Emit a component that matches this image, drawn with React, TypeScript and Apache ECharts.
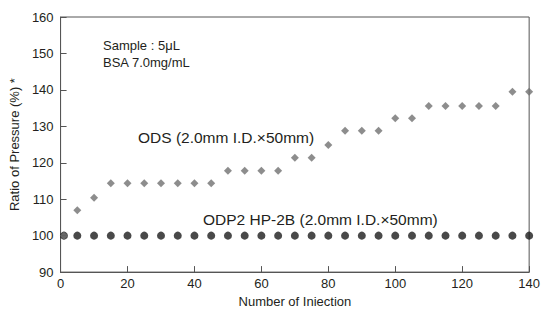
import React, { useEffect, useRef } from "react";
import * as echarts from "echarts";

const injections = [1, 5, 10, 15, 20, 25, 30, 35, 40, 45, 50, 55, 60, 65, 70, 75, 80, 85, 90, 95, 100, 105, 110, 115, 120, 125, 130, 135, 140];
const odsValues = [100, 107, 110.4, 114.4, 114.4, 114.4, 114.4, 114.4, 114.4, 114.4, 117.8, 117.8, 117.8, 117.8, 121.4, 121.4, 124.9, 128.8, 128.8, 128.8, 132.2, 132.2, 135.6, 135.6, 135.6, 135.6, 135.6, 139.5, 139.5];
const odp2Values = [100, 100, 100, 100, 100, 100, 100, 100, 100, 100, 100, 100, 100, 100, 100, 100, 100, 100, 100, 100, 100, 100, 100, 100, 100, 100, 100, 100, 100];

const xTitle = "Number of Iniection";
const yTitle = "Ratio of Pressure (%) *";
const noteLines = ["Sample : 5μL", "BSA 7.0mg/mL"];
const odsLabel = "ODS (2.0mm I.D.×50mm)";
const odp2Label = "ODP2 HP-2B (2.0mm I.D.×50mm)";

const FONT = "'Liberation Sans', Arial, Helvetica, sans-serif";
const TXT = "#231f20";
const AXIS = "#555555";

export default function App() {
  const ref = useRef<HTMLDivElement>(null);
  useEffect(() => {
    document.body.style.margin = "0";
    if (!ref.current) return;
    const chart = echarts.init(ref.current, undefined, { renderer: "svg" });
    chart.setOption({
      animation: false,
      backgroundColor: "#ffffff",
      textStyle: { fontFamily: FONT },
      grid: { left: 57, right: 10, top: 17, bottom: 36, show: true, borderColor: AXIS, borderWidth: 1 },
      xAxis: {
        type: "value",
        min: 0,
        max: 140,
        interval: 20,
        name: xTitle,
        nameLocation: "middle",
        nameGap: 22,
        nameTextStyle: { fontSize: 13, color: TXT, fontFamily: FONT },
        axisLine: { show: true, lineStyle: { color: AXIS, width: 1 } },
        axisTick: { show: true, inside: true, length: 6, lineStyle: { color: AXIS } },
        axisLabel: { fontSize: 13, color: TXT, margin: 5, fontFamily: FONT },
        splitLine: { show: false },
      },
      yAxis: {
        type: "value",
        min: 90,
        max: 160,
        interval: 10,
        name: yTitle,
        nameLocation: "middle",
        nameGap: 32,
        nameTextStyle: { fontSize: 13, color: TXT, fontFamily: FONT },
        axisLine: { show: true, lineStyle: { color: AXIS, width: 1 } },
        axisTick: { show: true, inside: true, length: 6, lineStyle: { color: AXIS } },
        axisLabel: { fontSize: 13, color: TXT, margin: 7, fontFamily: FONT },
        splitLine: { show: false },
      },
      series: [
        {
          name: "ODP2 HP-2B",
          type: "scatter",
          symbol: "circle",
          symbolSize: 8,
          itemStyle: { color: "#1c1c1c" },
          data: injections.map((x, i) => [x, odp2Values[i]]),
          z: 2,
        },
        {
          name: "ODS",
          type: "scatter",
          symbol: "diamond",
          symbolSize: 8,
          itemStyle: { color: "#707070" },
          data: injections.map((x, i) => [x, odsValues[i]]),
          z: 3,
        },
      ],
      graphic: [
        { type: "text", left: 103, top: 37, style: { text: noteLines.join("\n"), fontSize: 13, lineHeight: 17, fill: TXT, fontFamily: FONT } },
        { type: "text", left: 138, top: 129, style: { text: odsLabel, fontSize: 15.5, fill: TXT, fontFamily: FONT } },
        { type: "text", left: 203, top: 211, style: { text: odp2Label, fontSize: 15.5, fill: TXT, fontFamily: FONT } },
      ],
    });
    return () => chart.dispose();
  }, []);
  return <div ref={ref} style={{ width: 543, height: 313 }} />;
}
